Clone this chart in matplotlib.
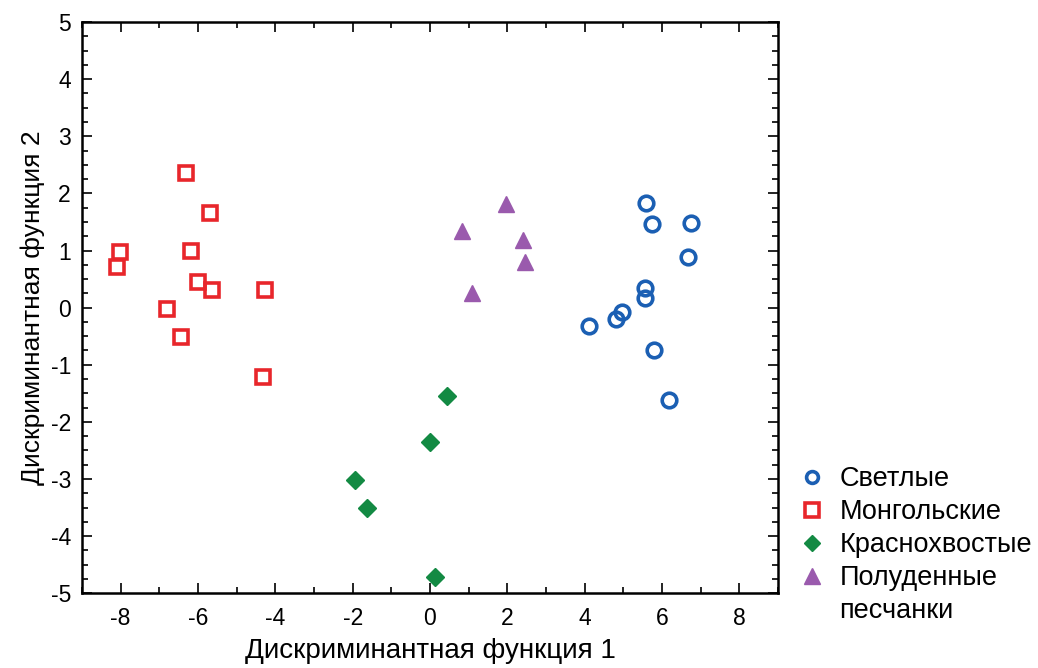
import matplotlib
matplotlib.use('Agg')
import matplotlib.pyplot as plt
from matplotlib.lines import Line2D
from matplotlib.ticker import MultipleLocator

plt.rcParams['font.family'] = ['Liberation Sans', 'DejaVu Sans']
plt.rcParams['axes.unicode_minus'] = False

# Светлые
light_x = [5.59, 5.74, 6.74, 6.68, 5.55, 5.55, 4.96, 4.82, 4.12, 5.79, 6.19]
light_y = [1.83, 1.47, 1.49, 0.88, 0.34, 0.16, -0.08, -0.20, -0.33, -0.75, -1.61]
# Монгольские
mong_x = [-6.30, -5.70, -8.03, -8.09, -6.17, -6.00, -5.63, -4.28, -6.80, -6.45, -4.33]
mong_y = [2.36, 1.66, 0.97, 0.71, 1.00, 0.44, 0.31, 0.31, -0.02, -0.52, -1.22]
# Краснохвостые
red_x = [0.44, -0.01, -1.93, -1.63, 0.14]
red_y = [-1.55, -2.35, -3.01, -3.51, -4.71]
# Полуденные песчанки
mer_x = [1.96, 0.83, 2.41, 2.45, 1.08]
mer_y = [1.82, 1.35, 1.19, 0.79, 0.25]

blue = '#1b5fb3'
red = '#e8262b'
green = '#138a43'
purple = '#9a5aad'

fig = plt.figure(figsize=(10.38, 6.68), dpi=100)
ax = fig.add_axes([0.079, 0.112, 0.6705, 0.855])

ax.plot(light_x, light_y, 'o', ms=10.5, mfc='none', mec=blue, mew=2.6)
ax.plot(mong_x, mong_y, 's', ms=10.5, mfc='none', mec=red, mew=2.6)
ax.plot(red_x, red_y, 'D', ms=9, mfc=green, mec=green, mew=1)
ax.plot(mer_x, mer_y, '^', ms=12, mfc=purple, mec=purple, mew=1)

ax.set_xlim(-9, 9)
ax.set_ylim(-5, 5)
ax.xaxis.set_major_locator(MultipleLocator(2))
ax.xaxis.set_minor_locator(MultipleLocator(1))
ax.yaxis.set_major_locator(MultipleLocator(1))
ax.yaxis.set_minor_locator(MultipleLocator(0.25))
ax.tick_params(which='both', direction='in', top=True, right=True, width=1.2)
ax.tick_params(which='major', length=7, labelsize=16.5)
ax.tick_params(axis='x', which='major', pad=10)
ax.tick_params(axis='y', which='major', pad=8)
ax.tick_params(which='minor', length=4)
for s in ax.spines.values():
    s.set_linewidth(1.8)

ax.set_xlabel('Дискриминантная функция 1', fontsize=20, labelpad=6)
ax.set_ylabel('Дискриминантная функция 2', fontsize=19, labelpad=4)

handles = [
    Line2D([], [], ls='none', marker='o', ms=8.5, mfc='none', mec=blue, mew=2.6),
    Line2D([], [], ls='none', marker='s', ms=9.5, mfc='none', mec=red, mew=2.6),
    Line2D([], [], ls='none', marker='D', ms=8.5, mfc=green, mec=green),
    Line2D([], [], ls='none', marker='^', ms=12, mfc=purple, mec=purple),
    Line2D([], [], ls='none', marker=None),
]
labels = ['Светлые', 'Монгольские', 'Краснохвостые', 'Полуденные', 'песчанки']
fig.legend(handles, labels, loc='upper left', bbox_to_anchor=(0.772, 0.302),
           frameon=False, fontsize=19.5, handlelength=0.8, handletextpad=0.6,
           labelspacing=0.26, borderpad=0, borderaxespad=0)

fig.savefig('out.png', dpi=100)
